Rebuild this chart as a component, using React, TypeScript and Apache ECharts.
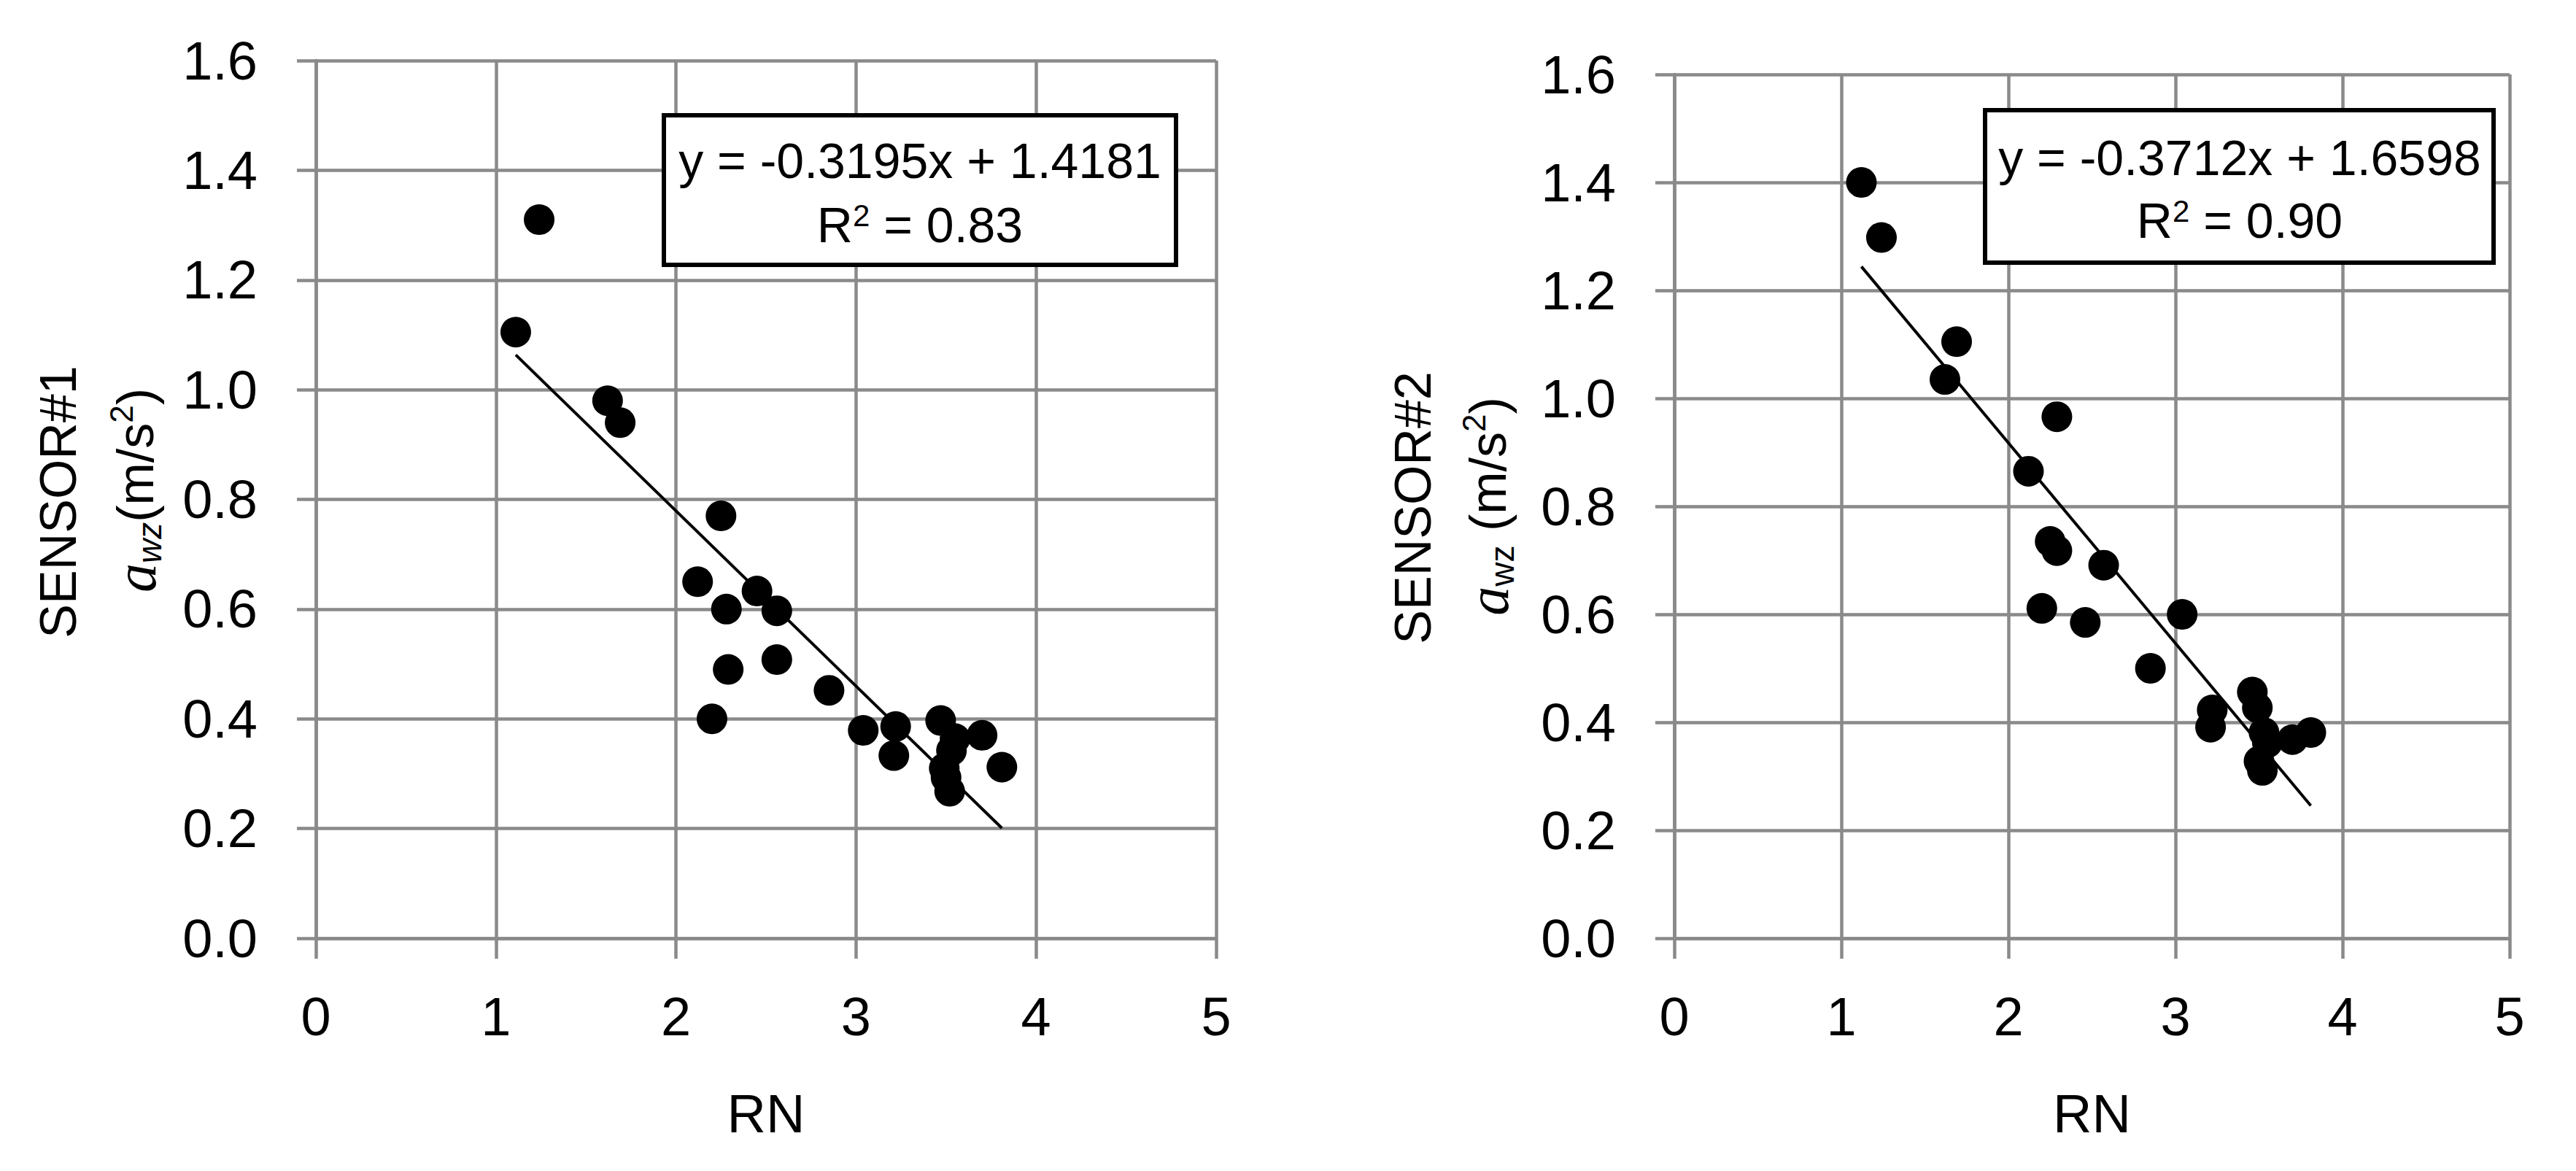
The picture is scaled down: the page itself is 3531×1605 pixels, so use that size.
import React, { useEffect, useRef } from "react";
import * as echarts from "echarts";

// ---- Data ----
const rn1 = [1.11, 1.24, 1.62, 1.69, 2.12, 2.20, 2.25, 2.28, 2.29, 2.45, 2.56, 2.56, 2.85, 3.04, 3.21, 3.22, 3.47, 3.49, 3.50, 3.52, 3.53, 3.55, 3.70, 3.81];
const awz1 = [1.105, 1.31, 0.98, 0.94, 0.65, 0.40, 0.77, 0.60, 0.49, 0.633, 0.597, 0.508, 0.452, 0.379, 0.333, 0.386, 0.397, 0.310, 0.293, 0.268, 0.342, 0.364, 0.370, 0.312];

const rn2 = [1.12, 1.24, 1.62, 1.69, 2.12, 2.20, 2.25, 2.29, 2.29, 2.46, 2.57, 2.85, 3.04, 3.21, 3.22, 3.46, 3.49, 3.50, 3.52, 3.53, 3.55, 3.70, 3.81];
const awz2 = [1.40, 1.298, 1.035, 1.105, 0.865, 0.611, 0.735, 0.966, 0.718, 0.585, 0.691, 0.50, 0.60, 0.391, 0.423, 0.456, 0.427, 0.328, 0.311, 0.381, 0.362, 0.368, 0.381];

// trendline coefficients as printed on the charts
const trend1 = { slope: -0.3195, intercept: 1.4181, r2: "0.83" };
const trend2 = { slope: -0.3712, intercept: 1.6598, r2: "0.90" };

const xTicks = { min: 0, max: 5, interval: 1 };
const yTicks = { min: 0, max: 1.6, interval: 0.2 };

const GRAY = "#8a8a8a";
const FONT = "Liberation Sans";

function trendPoints(xs: number[], t: { slope: number; intercept: number }) {
  const lo = Math.min(...xs);
  const hi = Math.max(...xs);
  return [
    [lo, t.slope * lo + t.intercept],
    [hi, t.slope * hi + t.intercept],
  ];
}

function fmtEq(t: { slope: number; intercept: number }) {
  return `y = ${t.slope.toFixed(4)}x + ${t.intercept.toFixed(4)}`;
}

export default function App() {
  const ref = useRef<HTMLDivElement>(null);

  useEffect(() => {
    if (!ref.current) return;
    const chart = echarts.init(ref.current, undefined, { renderer: "svg" });

    const mkX = (i: number) => ({
      type: "value",
      gridIndex: i,
      min: xTicks.min,
      max: xTicks.max,
      interval: xTicks.interval,
      axisLine: { show: true, onZero: false, lineStyle: { color: GRAY, width: 4.5 } },
      axisTick: { show: true, length: 28, lineStyle: { color: GRAY, width: 4.5 } },
      splitLine: { show: true, lineStyle: { color: GRAY, width: 4.5 } },
      axisLabel: { margin: 70, fontSize: 74, color: "#000", fontFamily: FONT },
      name: "RN",
      nameLocation: "middle",
      nameGap: 203,
      nameTextStyle: { fontSize: 74, color: "#000", fontFamily: FONT },
    });

    const mkY = (i: number) => ({
      type: "value",
      gridIndex: i,
      min: yTicks.min,
      max: yTicks.max,
      interval: yTicks.interval,
      axisLine: { show: true, onZero: false, lineStyle: { color: GRAY, width: 4.5 } },
      axisTick: { show: true, length: 26, lineStyle: { color: GRAY, width: 4.5 } },
      splitLine: { show: true, lineStyle: { color: GRAY, width: 4.5 } },
      axisLabel: {
        margin: 80,
        fontSize: 74,
        color: "#000",
        fontFamily: FONT,
        formatter: (v: number) => v.toFixed(1),
      },
    });

    const richBase = {
      n: { fontSize: 70, lineHeight: 84, fontFamily: FONT, color: "#000" },
      i: { fontSize: 80, lineHeight: 84, fontFamily: "Liberation Serif", fontStyle: "italic", color: "#000" },
      subi: { fontSize: 46, lineHeight: 46, fontFamily: FONT, fontStyle: "italic", verticalAlign: "bottom", color: "#000" },
      sub: { fontSize: 46, lineHeight: 46, fontFamily: FONT, verticalAlign: "bottom", color: "#000" },
      sup: { fontSize: 44, lineHeight: 44, fontFamily: FONT, verticalAlign: "top", color: "#000" },
    };

    const eqRich = {
      n: { fontSize: 68, lineHeight: 68, fontFamily: FONT, color: "#000" },
      sup: { fontSize: 42, lineHeight: 42, fontFamily: FONT, verticalAlign: "top", color: "#000" },
    };

    const rotText = (x: number, y: number, text: string) => ({
      type: "text",
      x,
      y,
      rotation: Math.PI / 2,
      z: 50,
      style: {
        text,
        rich: richBase,
        fontSize: 70,
        fontFamily: FONT,
        fill: "#000",
        align: "center",
        verticalAlign: "middle",
      },
    });

    const eqBox = (
      bx: number,
      by: number,
      bw: number,
      bh: number,
      cx: number,
      y1: number,
      y2: number,
      t: { slope: number; intercept: number; r2: string }
    ) => [
      {
        type: "rect",
        z: 60,
        shape: { x: bx, y: by, width: bw, height: bh },
        style: { fill: "#fff", stroke: "#000", lineWidth: 6 },
      },
      {
        type: "text",
        z: 61,
        x: cx,
        y: y1,
        style: {
          text: fmtEq(t),
          fontSize: 68,
          fontFamily: FONT,
          fill: "#000",
          align: "center",
          verticalAlign: "middle",
        },
      },
      {
        type: "text",
        z: 61,
        x: cx,
        y: y2,
        style: {
          text: `{n|R}{sup|2}{n| = ${t.r2}}`,
          rich: eqRich,
          fontSize: 68,
          fontFamily: FONT,
          fill: "#000",
          align: "center",
          verticalAlign: "middle",
        },
      },
    ];

    const option = {
      animation: false,
      backgroundColor: "#ffffff",
      grid: [
        { left: 433, top: 83, width: 1234, height: 1203 },
        { left: 2295, top: 102, width: 1145, height: 1184 },
      ],
      xAxis: [mkX(0), mkX(1)],
      yAxis: [mkY(0), mkY(1)],
      series: [
        {
          type: "scatter",
          xAxisIndex: 0,
          yAxisIndex: 0,
          symbol: "circle",
          symbolSize: 42,
          itemStyle: { color: "#000", opacity: 1 },
          data: rn1.map((x, k) => [x, awz1[k]]),
          z: 3,
        },
        {
          type: "line",
          xAxisIndex: 0,
          yAxisIndex: 0,
          symbol: "none",
          lineStyle: { color: "#000", width: 4 },
          data: trendPoints(rn1, trend1),
          z: 4,
        },
        {
          type: "scatter",
          xAxisIndex: 1,
          yAxisIndex: 1,
          symbol: "circle",
          symbolSize: 42,
          itemStyle: { color: "#000", opacity: 1 },
          data: rn2.map((x, k) => [x, awz2[k]]),
          z: 3,
        },
        {
          type: "line",
          xAxisIndex: 1,
          yAxisIndex: 1,
          symbol: "none",
          lineStyle: { color: "#000", width: 4 },
          data: trendPoints(rn2, trend2),
          z: 4,
        },
      ],
      graphic: [
        rotText(80, 688, "{n|SENSOR#1}"),
        rotText(186, 672, "{i|a}{subi|wz}{n|(m/s}{sup|2}{n|)}"),
        rotText(1937, 696, "{n|SENSOR#2}"),
        rotText(2040, 694, "{i|a}{sub|wz}{n| (m/s}{sup|2}{n|)}"),
        ...eqBox(910, 158, 702, 205, 1261, 220, 308, trend1),
        ...eqBox(2721, 151, 697, 209, 3070, 216, 302, trend2),
      ],
    };

    chart.setOption(option as any);
    return () => chart.dispose();
  }, []);

  return (
    <div
      ref={ref}
      style={{ position: "absolute", left: 0, top: 0, width: 3531, height: 1605, background: "#fff" }}
    />
  );
}
